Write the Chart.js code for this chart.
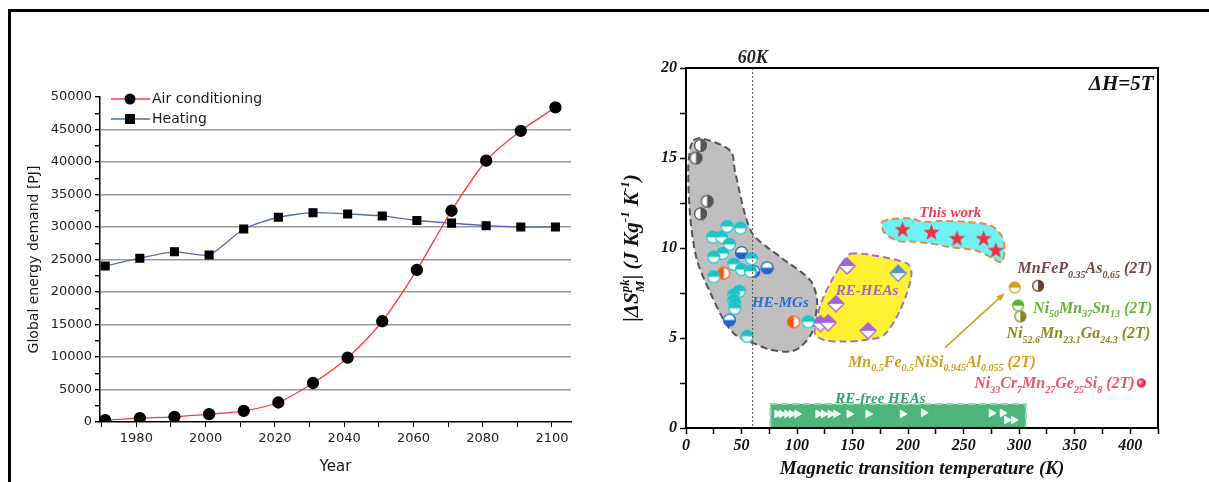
<!DOCTYPE html>
<html>
<head>
<meta charset="utf-8">
<script src="https://cdn.jsdelivr.net/npm/chart.js@4.4.1/dist/chart.umd.min.js"></script>
<style>
  html, body { margin: 0; padding: 0; background: #fff; }
  #page { position: relative; width: 1209px; height: 482px; overflow: hidden; }
  #frame { position: absolute; left: 8px; top: 9px; width: 1300px; height: 500px;
           border-top: 3px solid #000; border-left: 3px solid #000; }
  .box { position: absolute; top: 0; height: 482px; }
</style>
</head>
<body>
<div id="page">
  <div id="frame"></div>
  <div class="box" style="left:0;width:600px"><canvas id="energy"></canvas></div>
  <div class="box" style="left:600px;width:609px"><canvas id="mce"></canvas></div>
</div>
<script>
/* ---------- left panel: energy demand ---------- */
const years    = [1971, 1981, 1991, 2001, 2011, 2021, 2031, 2041, 2051, 2061, 2071, 2081, 2091, 2101];
const airCond  = [300, 600, 800, 1200, 1700, 3000, 6000, 9900, 15500, 23400, 32500, 40200, 44800, 48400];
const heating  = [24000, 25200, 26200, 25700, 29700, 31500, 32200, 32000, 31700, 31000, 30600, 30200, 30000, 30000];
const yearTicks = [1970, 1980, 1990, 2000, 2010, 2020, 2030, 2040, 2050, 2060, 2070, 2080, 2090, 2100];

/* ---------- right panel: entropy change vs transition temperature ---------- */
// shaded groups (closed outlines)
const hemgT   = [6.6, 14, 40, 44, 53, 61, 85, 112, 118, 116, 113, 103, 94, 76, 61, 52, 43, 34, 22, 10, 4, 2, 4, 6.6];
const hemgS   = [16.0, 16.1, 15.4, 14.3, 11.9, 10.7, 9.5, 8.2, 7.1, 6.0, 5.25, 4.5, 4.25, 4.35, 4.7, 4.9, 5.25, 6.0, 7.5, 9.3, 11.6, 14.3, 15.6, 16.0];
const reheaT  = [148, 163, 199, 203, 199, 190, 178, 163, 142, 124, 116, 118, 124, 133, 142, 148];
const reheaS  = [9.7, 9.65, 9.15, 8.6, 7.5, 6.2, 5.15, 4.9, 4.8, 4.9, 5.25, 6.2, 7.3, 8.4, 9.3, 9.7];
const workT   = [176, 184, 202, 214, 229, 253, 274, 284, 287, 284, 277, 262, 238, 220, 205, 190, 178, 176];
const workS   = [11.45, 11.6, 11.65, 11.45, 11.5, 11.45, 11.25, 10.7, 9.9, 9.2, 9.4, 9.85, 10.05, 10.25, 10.35, 10.4, 10.9, 11.45];
const refreeT = [76, 306, 306, 76, 76];
const refreeS = [0, 0, 1.33, 1.33, 0];

// measured points
const greyT   = [13, 9, 19, 13];
const greyS   = [15.7, 15.0, 12.6, 11.9];
const cyanT   = [37, 49, 24, 32, 39, 33, 25, 59, 43, 50, 58, 25, 48, 43, 43, 44, 44, 55, 110];
const cyanS   = [11.2, 11.1, 10.6, 10.6, 10.2, 9.7, 9.5, 9.4, 9.1, 8.8, 8.7, 8.4, 7.6, 7.4, 7.1, 6.9, 6.65, 5.1, 5.9];
const blueT   = [50, 61, 73, 39];
const blueS   = [9.75, 8.7, 8.9, 6.0];
const orangeT = [34, 97];
const orangeS = [8.6, 5.9];
const diamT   = [145, 135, 121, 128, 164];
const diamS   = [9.0, 6.9, 5.8, 5.85, 5.4];
const diamBlueT = [191];
const diamBlueS = [8.6];
const starT   = [195, 221, 244, 268, 279];
const starS   = [11.0, 10.85, 10.5, 10.5, 9.85];
const triT    = [82, 86, 91, 95, 100, 119, 124, 130, 135, 147, 164, 195, 214, 275, 285, 289, 295];
const triS    = [0.78, 0.78, 0.78, 0.78, 0.78, 0.78, 0.78, 0.78, 0.78, 0.78, 0.78, 0.78, 0.85, 0.83, 0.83, 0.44, 0.44];
const mnfepT = [317],  mnfepS = [7.9];
const mnfesiT = [296], mnfesiS = [7.8];
const ni50T = [299],   ni50S = [6.8];
const ni52T = [301],   ni52S = [6.2];
const ni33T = [410],   ni33S = [2.5];

const pts = (xs, ys) => xs.map((x, i) => ({ x, y: ys[i] }));
const SERIF = "'Liberation Serif', 'DejaVu Serif', serif";
const SANS = "'DejaVu Sans', 'Liberation Sans', sans-serif";

/* ── marker images ── */
function newMark(size) {
  const c = document.createElement('canvas');
  c.width = c.height = size;
  return [c, c.getContext('2d'), size / 2];
}
function halfCircle(color, side, r) {
  const [c, g, m] = newMark(Math.ceil(r * 2 + 2));
  g.fillStyle = '#fff';
  g.beginPath(); g.arc(m, m, r, 0, 2 * Math.PI); g.fill();
  const start = { top: Math.PI, bottom: 0, left: Math.PI / 2, right: -Math.PI / 2 }[side];
  g.fillStyle = color;
  g.beginPath(); g.arc(m, m, r, start, start + Math.PI); g.closePath(); g.fill();
  g.strokeStyle = color; g.lineWidth = 1.3;
  g.beginPath(); g.arc(m, m, r - 0.6, 0, 2 * Math.PI); g.stroke();
  return c;
}
function halfDiamond(color, r) {
  const [c, g, m] = newMark(Math.ceil(r * 2 + 2));
  const path = () => { g.beginPath(); g.moveTo(m, m - r); g.lineTo(m + r, m); g.lineTo(m, m + r); g.lineTo(m - r, m); g.closePath(); };
  g.fillStyle = '#fff'; path(); g.fill();
  g.fillStyle = color;
  g.beginPath(); g.moveTo(m - r, m); g.lineTo(m, m - r); g.lineTo(m + r, m); g.closePath(); g.fill();
  g.strokeStyle = color; g.lineWidth = 1.3; path(); g.stroke();
  return c;
}
function star(color, r) {
  const [c, g, m] = newMark(Math.ceil(r * 2 + 2));
  g.fillStyle = color;
  g.beginPath();
  for (let i = 0; i < 10; i++) {
    const a = -Math.PI / 2 + i * Math.PI / 5;
    const rr = i % 2 ? r * 0.42 : r;
    g.lineTo(m + rr * Math.cos(a), m + rr * Math.sin(a));
  }
  g.closePath(); g.fill();
  return c;
}
function ball(color, r) {
  const [c, g, m] = newMark(Math.ceil(r * 2 + 2));
  const grad = g.createRadialGradient(m - r * 0.3, m - r * 0.3, 0.5, m, m, r);
  grad.addColorStop(0, '#ffd0d8'); grad.addColorStop(0.5, color); grad.addColorStop(1, '#c02030');
  g.fillStyle = grad;
  g.beginPath(); g.arc(m, m, r, 0, 2 * Math.PI); g.fill();
  return c;
}

/* ── rich text with sub/superscripts ── */
function drawRich(ctx, parts, x, cy, size, color, align) {
  const big = `bold italic ${size}px ${SERIF}`;
  const small = `bold italic ${Math.round(size * 0.62)}px ${SERIF}`;
  const widths = parts.map(([t, m]) => {
    if (m === 'ss') { ctx.font = small; return Math.max(ctx.measureText(t[0]).width, ctx.measureText(t[1]).width); }
    ctx.font = m ? small : big; return ctx.measureText(t).width;
  });
  const total = widths.reduce((a, b) => a + b, 0);
  let cx = align === 'right' ? x - total : align === 'center' ? x - total / 2 : x;
  const base = cy + size * 0.34;
  ctx.save();
  ctx.fillStyle = color; ctx.textAlign = 'left'; ctx.textBaseline = 'alphabetic';
  parts.forEach(([t, m], i) => {
    if (m === 'ss') {
      ctx.font = small;
      ctx.fillText(t[0], cx, base + size * 0.3);
      ctx.fillText(t[1], cx, base - size * 0.45);
    } else {
      ctx.font = m ? small : big;
      const dy = m === 'sub' ? size * 0.28 : m === 'sup' ? -size * 0.42 : 0;
      ctx.fillText(t, cx, base + dy);
    }
    cx += widths[i];
  });
  ctx.restore();
}

/* ── left chart ── */
const energyLegend = {
  id: 'energyLegend',
  afterDraw(chart) {
    const ctx = chart.ctx;
    const rows = [
      { label: 'Air conditioning', color: '#ff3b3b', shape: 'circle', y: 99 },
      { label: 'Heating', color: '#5868b8', shape: 'square', y: 119 }
    ];
    ctx.save();
    rows.forEach(r => {
      ctx.strokeStyle = r.color; ctx.lineWidth = 1.3;
      ctx.beginPath(); ctx.moveTo(111, r.y); ctx.lineTo(150, r.y); ctx.stroke();
      ctx.fillStyle = '#000';
      ctx.beginPath();
      if (r.shape === 'circle') ctx.arc(130, r.y, 5.5, 0, 2 * Math.PI);
      else ctx.rect(125, r.y - 5, 10, 10);
      ctx.fill();
      ctx.fillStyle = '#1a1a1a'; ctx.font = `14px ${SANS}`;
      ctx.textAlign = 'left'; ctx.textBaseline = 'middle';
      ctx.fillText(r.label, 152, r.y);
    });
    ctx.restore();
  }
};

new Chart(document.getElementById('energy'), {
  type: 'line',
  data: {
    datasets: [
      {
        label: 'Air conditioning',
        data: pts(years, airCond),
        borderColor: '#ff3b3b', borderWidth: 1.3,
        pointStyle: 'circle', pointRadius: 5.5,
        pointBackgroundColor: '#000', pointBorderColor: '#000',
        tension: 0.3
      },
      {
        label: 'Heating',
        data: pts(years, heating),
        borderColor: '#5868b8', borderWidth: 1.3,
        pointStyle: 'rect', pointRadius: 5.5,
        pointBackgroundColor: '#000', pointBorderColor: '#000',
        tension: 0.2
      }
    ]
  },
  options: {
    responsive: true,
    maintainAspectRatio: false,
    animation: false,
    layout: { padding: { left: 26, right: 29, top: 97, bottom: 0 } },
    plugins: { legend: { display: false }, tooltip: { enabled: false } },
    scales: {
      x: {
        type: 'linear', min: 1969.5, max: 2105.5,
        afterBuildTicks: s => { s.ticks = yearTicks.map(v => ({ value: v })); },
        afterFit: s => { s.height = 60; },
        border: { color: '#000', width: 1.5 },
        grid: { drawOnChartArea: false, tickLength: 5, tickColor: '#000' },
        ticks: {
          color: '#222', font: { family: SANS, size: 13 }, padding: 4,
          maxRotation: 0, autoSkip: false,
          callback: v => (v % 20 === 0 && v > 1970 ? String(v) : '')
        },
        title: { display: true, text: 'Year', color: '#1a1a1a', font: { family: SANS, size: 15 }, padding: { top: 2, bottom: 6 } }
      },
      y: {
        min: 0, max: 50000,
        afterBuildTicks: s => {
          const t = [];
          for (let v = 0; v <= 50000; v += 2500) t.push({ value: v });
          s.ticks = t;
        },
        afterFit: s => { s.width = 74; },
        border: { color: '#000', width: 1.5 },
        grid: {
          color: c => (c.tick && c.tick.value % 5000 === 0 && c.tick.value > 0 && c.tick.value < 50000) ? '#9a9a9a' : 'rgba(0,0,0,0)',
          lineWidth: 1.4, tickLength: 5, tickColor: '#000'
        },
        ticks: {
          color: '#222', font: { family: SANS, size: 13 }, padding: 3, autoSkip: false,
          callback: v => (v % 5000 === 0 ? String(v) : '')
        },
        title: { display: true, text: 'Global energy demand [PJ]', color: '#1a1a1a', font: { family: SANS, size: 14 }, padding: { top: 0, bottom: 2 } }
      }
    }
  },
  plugins: [energyLegend]
});

/* ── right chart ── */
const M = {
  grey:   halfCircle('#555555', 'right', 6.5),
  cyan:   halfCircle('#1fc3c6', 'top', 6.5),
  blue:   halfCircle('#2462cc', 'bottom', 6.5),
  orange: halfCircle('#ff5a10', 'left', 6.5),
  diam:   halfDiamond('#a363d8', 8),
  diamB:  halfDiamond('#5b8fd0', 8),
  star:   star('#ee3344', 8.5),
  mnfep:  halfCircle('#6e3a3a', 'right', 6),
  mnfesi: halfCircle('#d4a21e', 'top', 6),
  ni50:   halfCircle('#55b52a', 'top', 6),
  ni52:   halfCircle('#8a8a1c', 'right', 6),
  ni33:   ball('#f04058', 4.5)
};

const region = (label, xs, ys, fillColor, edge, tension) => ({
  label, data: pts(xs, ys), showLine: true, fill: 'shape',
  backgroundColor: fillColor, borderColor: edge, borderWidth: 2, borderDash: [7, 4],
  pointRadius: 0, tension, order: 10
});
const marks = (label, xs, ys, style, extra) => Object.assign({
  label, data: pts(xs, ys), showLine: false, pointStyle: style, pointRadius: 7, order: 0
}, extra || {});

const mceLabels = {
  id: 'mceLabels',
  afterDraw(chart) {
    const { ctx, scales: { x, y }, chartArea: a } = chart;
    const X = v => x.getPixelForValue(v), Y = v => y.getPixelForValue(v);
    ctx.save();
    // 60 K guide line
    ctx.strokeStyle = '#555'; ctx.lineWidth = 1; ctx.setLineDash([2, 2]);
    ctx.beginPath(); ctx.moveTo(X(60), a.top); ctx.lineTo(X(60), a.bottom); ctx.stroke();
    ctx.setLineDash([]);
    // frame
    ctx.strokeStyle = '#000'; ctx.lineWidth = 2;
    ctx.strokeRect(a.left, a.top, a.right - a.left, a.bottom - a.top);
    // arrow
    const x0 = X(233), y0 = Y(4.45), x1 = X(287), y1 = Y(7.5);
    const ang = Math.atan2(y1 - y0, x1 - x0);
    ctx.strokeStyle = '#d1a020'; ctx.fillStyle = '#d1a020'; ctx.lineWidth = 1.6;
    ctx.beginPath(); ctx.moveTo(x0, y0); ctx.lineTo(x1 - 6 * Math.cos(ang), y1 - 6 * Math.sin(ang)); ctx.stroke();
    ctx.beginPath(); ctx.moveTo(x1, y1);
    ctx.lineTo(x1 - 9 * Math.cos(ang - 0.35), y1 - 9 * Math.sin(ang - 0.35));
    ctx.lineTo(x1 - 9 * Math.cos(ang + 0.35), y1 - 9 * Math.sin(ang + 0.35));
    ctx.closePath(); ctx.fill();
    ctx.restore();

    drawRich(ctx, [['60K', '']], X(60), 57, 18, '#222', 'center');
    drawRich(ctx, [['ΔH=5T', '']], X(421), Y(19.2), 21, '#111', 'right');
    drawRich(ctx, [['This work', '']], X(238), Y(12.0), 15, '#f03e55', 'center');
    drawRich(ctx, [['HE-MGs', '']], X(85), Y(7.0), 15, '#2a6fd2', 'center');
    drawRich(ctx, [['RE-HEAs', '']], X(163), Y(7.7), 15, '#a06ccc', 'center');
    drawRich(ctx, [['RE-free HEAs', '']], X(175), Y(1.7), 15, '#36a46c', 'center');
    drawRich(ctx, [['MnFeP', ''], ['0.35', 'sub'], ['As', ''], ['0.65', 'sub'], [' (2T)', '']], X(420), Y(8.9), 16, '#7a4646', 'right');
    drawRich(ctx, [['Ni', ''], ['50', 'sub'], ['Mn', ''], ['37', 'sub'], ['Sn', ''], ['13', 'sub'], [' (2T)', '']], X(420), Y(6.7), 16, '#62b830', 'right');
    drawRich(ctx, [['Ni', ''], ['52.6', 'sub'], ['Mn', ''], ['23.1', 'sub'], ['Ga', ''], ['24.3', 'sub'], [' (2T)', '']], X(418), Y(5.3), 16, '#8c8c1e', 'right');
    drawRich(ctx, [['Mn', ''], ['0.5', 'sub'], ['Fe', ''], ['0.5', 'sub'], ['NiSi', ''], ['0.945', 'sub'], ['Al', ''], ['0.055', 'sub'], [' (2T)', '']], X(146), Y(3.7), 16, '#d0a020', 'left');
    drawRich(ctx, [['Ni', ''], ['33', 'sub'], ['Cr', ''], ['7', 'sub'], ['Mn', ''], ['27', 'sub'], ['Ge', ''], ['25', 'sub'], ['Si', ''], ['8', 'sub'], [' (2T)', '']], X(404), Y(2.5), 16, '#f2556e', 'right');

    // y-axis title
    ctx.save();
    ctx.translate(31, (a.top + a.bottom) / 2);
    ctx.rotate(-Math.PI / 2);
    drawRich(ctx, [['|ΔS', ''], [['M', 'pk'], 'ss'], ['| (J Kg', ''], ['-1', 'sup'], [' K', ''], ['-1', 'sup'], [')', '']], 0, 0, 21, '#111', 'center');
    ctx.restore();
  }
};

new Chart(document.getElementById('mce'), {
  type: 'scatter',
  data: {
    datasets: [
      region('RE-free HEAs', refreeT, refreeS, '#4fb57c', '#9ad6b0', 0),
      region('HE-MGs', hemgT, hemgS, '#bfbfbf', '#555555', 0.3),
      region('RE-HEAs', reheaT, reheaS, '#fff033', '#a76fd8', 0.3),
      region('This work', workT, workS, '#6ff2f2', '#ea8a44', 0.3),
      marks('RE-free', triT, triS, 'triangle', { pointRadius: 4.5, rotation: 90, pointRotation: 90, backgroundColor: 'rgba(255,255,255,0.9)', borderColor: '#f0fff4', borderWidth: 1 }),
      marks('grey', greyT, greyS, M.grey),
      marks('cyan', cyanT, cyanS, M.cyan),
      marks('blue', blueT, blueS, M.blue),
      marks('orange', orangeT, orangeS, M.orange),
      marks('diam', diamT, diamS, M.diam),
      marks('diamB', diamBlueT, diamBlueS, M.diamB),
      marks('stars', starT, starS, M.star),
      marks('MnFeP', mnfepT, mnfepS, M.mnfep),
      marks('MnFeNiSi', mnfesiT, mnfesiS, M.mnfesi),
      marks('Ni50', ni50T, ni50S, M.ni50),
      marks('Ni52', ni52T, ni52S, M.ni52),
      marks('Ni33', ni33T, ni33S, M.ni33)
    ]
  },
  options: {
    responsive: true,
    maintainAspectRatio: false,
    animation: false,
    layout: { padding: { left: 0, right: 51, top: 68, bottom: 0 } },
    plugins: { legend: { display: false }, tooltip: { enabled: false } },
    scales: {
      x: {
        type: 'linear', min: 0, max: 425,
        afterBuildTicks: s => {
          const t = [];
          for (let v = 0; v <= 425; v += 25) t.push({ value: v });
          s.ticks = t;
        },
        afterFit: s => { s.height = 54; },
        border: { color: '#000', width: 2 },
        grid: { drawOnChartArea: false, tickLength: 6, tickColor: '#000', tickWidth: 1.5 },
        ticks: {
          color: '#111', font: { family: SERIF, size: 16, style: 'italic', weight: 'bold' }, padding: 2,
          maxRotation: 0, autoSkip: false,
          callback: v => (v % 50 === 0 ? String(v) : '')
        },
        title: { display: true, text: 'Magnetic transition temperature (K)', color: '#111',
                 font: { family: SERIF, size: 19, style: 'italic', weight: 'bold' }, padding: { top: 0, bottom: 2 } }
      },
      y: {
        min: 0, max: 20,
        afterBuildTicks: s => {
          const t = [];
          for (let v = 0; v <= 20; v += 2.5) t.push({ value: v });
          s.ticks = t;
        },
        afterFit: s => { s.width = 86; },
        border: { color: '#000', width: 2 },
        grid: { drawOnChartArea: false, tickLength: 6, tickColor: '#000', tickWidth: 1.5 },
        ticks: {
          color: '#111', font: { family: SERIF, size: 16, style: 'italic', weight: 'bold' }, padding: 3, autoSkip: false,
          callback: v => (v % 5 === 0 ? String(v) : '')
        }
      }
    }
  },
  plugins: [mceLabels]
});
</script>
</body>
</html>
